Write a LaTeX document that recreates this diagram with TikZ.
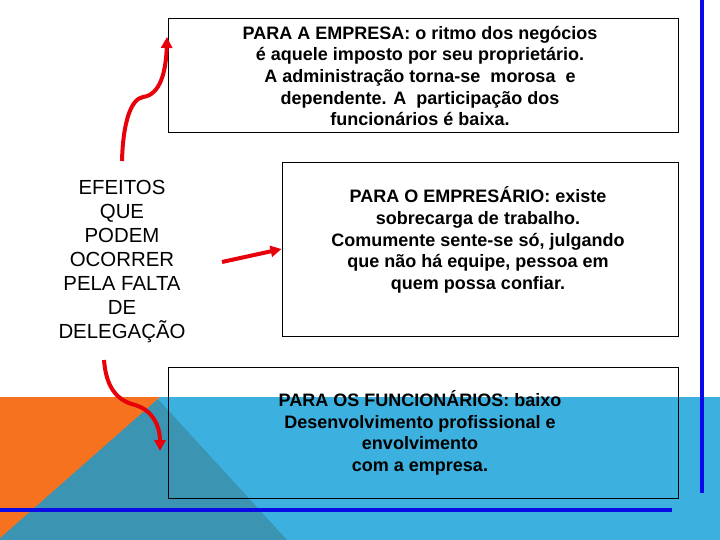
\documentclass[tikz,border=0pt]{standalone}
\usepackage{fontspec}
\setmainfont{Liberation Sans}
\usetikzlibrary{arrows.meta,calc}
\definecolor{bgblue}{RGB}{60,176,222}
\definecolor{bgdark}{RGB}{58,148,178}
\definecolor{bgorange}{RGB}{246,114,30}
\definecolor{lineblue}{RGB}{10,10,230}
\definecolor{arrred}{RGB}{232,0,10}
\tikzset{
  boxnode/.style={draw=black, line width=0.9pt, inner sep=0pt},
  boxtext/.style={align=center, inner sep=0pt, font=\fontsize{18}{21.6}\selectfont\bfseries},
  lefttext/.style={align=center, inner sep=0pt, font=\fontsize{20.4}{24}\selectfont},
  redarrow/.style={draw=arrred, line width=4pt, -{Triangle[length=11pt,width=11pt]}},
  blueline/.style={draw=lineblue, line width=4pt}
}
\begin{document}
\begin{tikzpicture}[x=1pt,y=-1pt]
\useasboundingbox (0,0) rectangle (720,540);
% background
\fill[white] (0,0) rectangle (720,540);
\fill[bgblue] (0,397) rectangle (720,540);
\fill[bgdark] (156,397) -- (287,540) -- (-10,540) -- cycle;
\fill[bgorange] (0,397) -- (160,397) -- (0,538) -- cycle;
% blue lines
\coordinate (vl1) at (702,0);
\coordinate (vl2) at (702,493);
\coordinate (hl1) at (0,510);
\coordinate (hl2) at (672,510);
\draw[blueline] (vl1) -- (vl2);
\draw[blueline] (hl1) -- (hl2);
% boxes
\node[boxnode, minimum width=510pt, minimum height=114pt] (top) at (423,75) {};
\node[boxnode, minimum width=396pt, minimum height=174pt] (mid) at (480,249) {};
\node[boxnode, minimum width=510pt, minimum height=131pt] (bot) at (423,432.5) {};
% texts
\node[boxtext] (toptxt) at (420,76) {PARA A EMPRESA: o ritmo dos negócios\\é aquele imposto por seu proprietário.\\A administração torna-se\ \ morosa\ \ e\\dependente. A\ \ participação dos\\funcionários é baixa.};
\node[boxtext] (midtxt) at (478,240) {PARA O EMPRESÁRIO: existe\\sobrecarga de trabalho.\\Comumente sente-se só, julgando\\que não há equipe, pessoa em\\quem possa confiar.};
\node[boxtext] (bottxt) at (420,433) {PARA OS FUNCIONÁRIOS: baixo\\Desenvolvimento profissional e\\envolvimento\\com a empresa.};
\node[lefttext] (eff) at (122,262) {EFEITOS\\QUE\\PODEM\\OCORRER\\PELA FALTA\\DE\\DELEGAÇÃO};
% arrows
\coordinate (a1s) at (122,161);
\coordinate (a1e) at (167,37);
\coordinate (a2s) at (222,262);
\coordinate (a3s) at (104,360);
\coordinate (a3e) at (160,451);
\draw[redarrow] (a1s) .. controls (123,122) and (131,99) .. (143,97) .. controls (160,95) and (166,72) .. (a1e);
\draw[redarrow] (a2s) -- (mid.west);
\draw[redarrow] (a3s) .. controls (106,385) and (115,400) .. (135,405) .. controls (152,410) and (160,425) .. (a3e);
\end{tikzpicture}
\end{document}
